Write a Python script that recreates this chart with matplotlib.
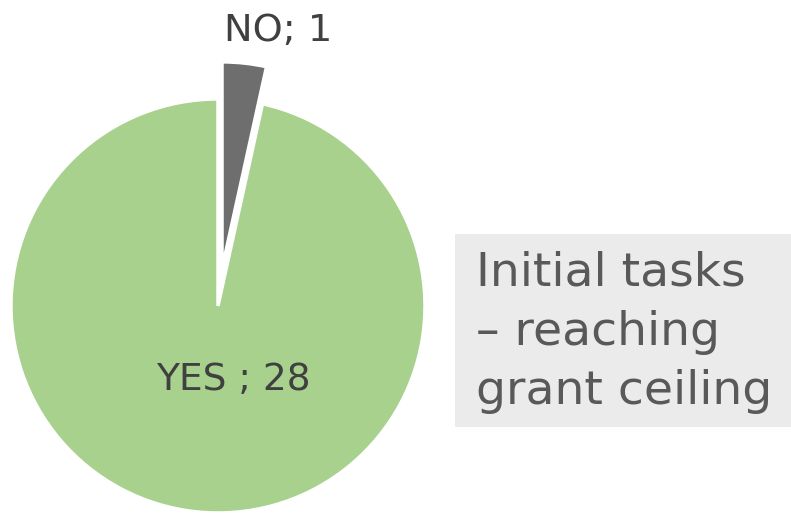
import matplotlib.pyplot as plt
from matplotlib.patches import Rectangle

labels = ['NO', 'YES']
values = [1, 28]
label_texts = ['NO; 1', 'YES ; 28']
colors = ['#6e6e6e', '#a9d18e']
box_text = 'Initial tasks\n\u2013 reaching\ngrant ceiling'

fig = plt.figure(figsize=(7.91, 5.14), dpi=100)
ax = fig.add_axes([0, 0, 1, 1])

wedges, _ = ax.pie(values, colors=colors, startangle=90, counterclock=False,
                   explode=[0.18, 0], radius=1,
                   wedgeprops=dict(edgecolor='white', linewidth=2.5))

ax.set_xlim(-1.053, 2.768)
ax.set_ylim(-1.005, 1.478)
ax.set_aspect('equal')
ax.axis('off')

# data labels
ax.text(0.29, 1.33, label_texts[0], ha='center', va='center',
        fontsize=27.5, color='#404040')
ax.text(0.072, -0.357, label_texts[1], ha='center', va='center',
        fontsize=27, color='#404040')

# text box on the right
fig.patches.append(Rectangle((455 / 791, 87 / 514), 336 / 791, 193 / 514,
                             transform=fig.transFigure, facecolor='#ebebeb',
                             edgecolor='none', zorder=0))
fig.text(476 / 791, 1 - 250 / 514, box_text, ha='left', va='top',
         fontsize=34, color='#595959', linespacing=1.42)

fig.savefig('out.png', dpi=100)
